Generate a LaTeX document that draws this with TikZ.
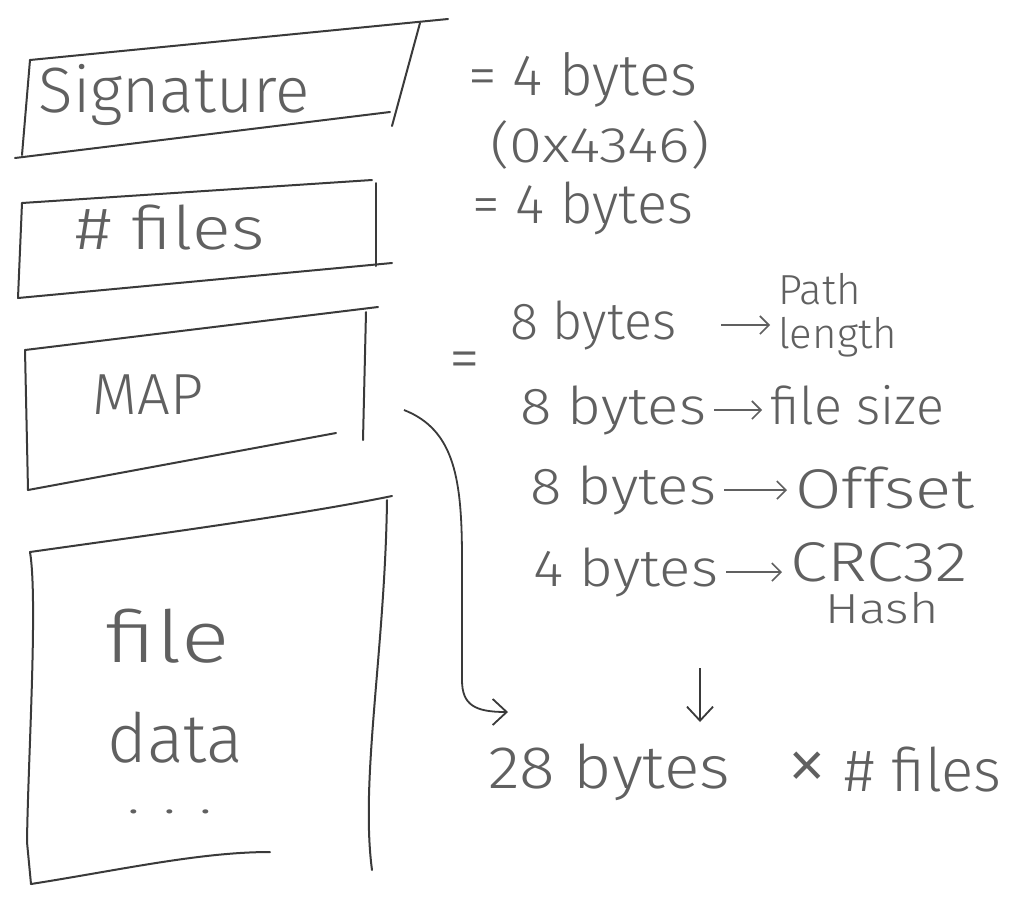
\documentclass[tikz,border=0pt]{standalone}
\usepackage{fontspec}
\newfontfamily\hwfont{Fira Sans}[UprightFont={* Light}]
\usetikzlibrary{arrows.meta}
\definecolor{ink}{HTML}{3A3A3A}
\definecolor{txt}{HTML}{606060}
\newcommand{\hwstretch}[2]{\scalebox{#1}[1]{#2}}
\begin{document}
\begin{tikzpicture}[x=1pt,y=-1pt,
  boxline/.style={draw=ink,line width=2pt,line cap=round,line join=round},
  hw/.style={text=txt,font=\hwfont\fontsize{#1}{#1}\selectfont,inner sep=0pt},
  hw/.default=55,
  conn/.style={draw=ink,line width=1.8pt,-{Straight Barb[length=14pt,width=26pt,line width=1.8pt]}},
  txtarrow/.style={draw=txt,line width=1.6pt,-{Straight Barb[length=9pt,width=18pt,line width=1.6pt]},shorten <=8pt,shorten >=8pt}]
\useasboundingbox[fill=white] (0,0) rectangle (1020,903);

% Signature box
\draw[boxline] (30,60) -- (448,19);
\draw[boxline] (420,23) -- (392,126);
\draw[boxline] (30,60) -- (22,155);
\draw[boxline] (15,158) -- (390,112);
\node[hw=64] (sig) at (174,95) {Signature};

% # files box
\draw[boxline] (22,203) -- (372,180);
\draw[boxline] (376,183) -- (376,266);
\draw[boxline] (22,203) -- (18,298);
\draw[boxline] (18,298) -- (392,263);
\node[hw=60] (nfiles) at (170,228) {\hwstretch{1.2}{\# files}};

% MAP box
\draw[boxline] (25,350) -- (378,307);
\draw[boxline] (366,312) -- (363,440);
\draw[boxline] (25,350) -- (28,490);
\draw[boxline] (28,490) -- (336,433);
\node[hw=58] (map) at (148,395) {MAP};

% file data box
\draw[boxline] (30,552) .. controls (150,535) and (300,515) .. (392,496);
\draw[boxline] (387,500) .. controls (385,650) and (360,780) .. (372,870);
\draw[boxline] (30,552) .. controls (38,600) and (28,760) .. (27,842) -- (31,884);
\draw[boxline] (31,884) .. controls (120,870) and (200,852) .. (270,852);
\node[hw=72] (file) at (168,636) {\hwstretch{1.25}{file}};
\node[hw=68] (data) at (175,738) {data};
\node[hw=44] (dots) at (170,812) {\hwstretch{1.4}{. . .}};

% right side
\node[hw=58,anchor=west] (sigb) at (468,80) {= 4 bytes};
\node[hw=50,anchor=west] (hex) at (490,145) {\hwstretch{1.2}{(0x4346)}};
\node[hw=56,anchor=west] (nfb) at (472,208) {= 4 bytes};
\node[hw=62] (eq) at (465,366) {=};

\node[hw=52,anchor=west] (b1) at (510,325) {8 bytes};
\node[hw=42,align=left,anchor=west] (pl) at (778,315) {Path\\[2pt]length};
\node[hw=52,anchor=west] (b2) at (520,410) {\hwstretch{1.12}{8 bytes}};
\node[hw=52,anchor=west] (l2) at (770,405) {file size};
\node[hw=52,anchor=west] (b3) at (530,490) {\hwstretch{1.12}{8 bytes}};
\node[hw=56,anchor=west] (l3) at (795,488) {\hwstretch{1.2}{Offset}};
\node[hw=52,anchor=west] (b4) at (533,572) {\hwstretch{1.12}{4 bytes}};
\node[hw=56,anchor=west] (l4) at (790,562) {\hwstretch{1.2}{CRC32}};
\node[hw=42] (hash) at (882,608) {\hwstretch{1.2}{Hash}};

\node[hw=60,anchor=west] (total) at (488,772) {\hwstretch{1.1}{28 bytes}};
\node[hw=60,anchor=west] (times) at (786,770) {{\fontsize{84}{84}\selectfont ×} \# files};

% text arrows
\draw[txtarrow,shorten <=45pt] (b1.east) -- (pl.west |- b1.east);
\draw[txtarrow] (b2.east) -- (l2.west |- b2.east);
\draw[txtarrow] (b3.east) -- (l3.west |- b3.east);
\draw[txtarrow] (b4.east) -- (l4.west |- b4.east);

% connectors
\coordinate (mapout) at (404,410);
\coordinate (c1) at (462,560);
\coordinate (tip) at (508,712);
\draw[conn] (mapout) .. controls (455,430) and (462,480) .. (c1) -- (462,680) .. controls (462,705) and (475,712) .. (tip);
\coordinate (dstart) at (700,668);
\draw[conn] (dstart) -- (700,722);
\end{tikzpicture}
\end{document}
